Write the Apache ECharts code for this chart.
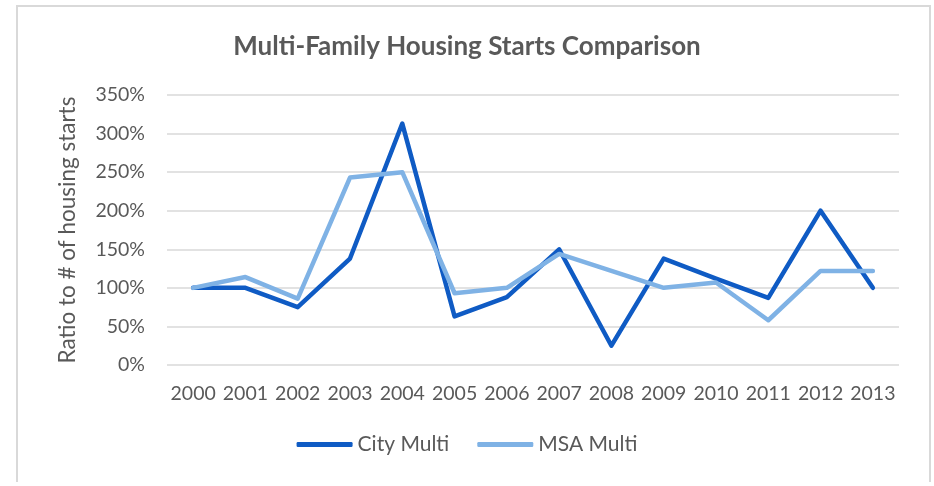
<!DOCTYPE html>
<html>
<head>
<meta charset="utf-8">
<script src="https://cdn.jsdelivr.net/npm/echarts@6/dist/echarts.min.js"></script>
<style>
  html, body { margin: 0; padding: 0; background: #fff; }
  #main { width: 934px; height: 486px; }
  .frame { position: absolute; left: 16px; top: 5px; width: 911px; height: 475px;
           border: 2px solid #d9d9d9; border-bottom: none; pointer-events: none; }
</style>
</head>
<body>
<div id="main"></div>
<div class="frame"></div>
<script>
// 年份
var years = ['2000','2001','2002','2003','2004','2005','2006','2007','2008','2009','2010','2011','2012','2013'];
// 比例 (%)
var cityMulti = [100, 100, 75, 138, 313, 63, 88, 150, 25, 138, 112, 87, 200, 100];
var msaMulti = [100, 114, 86, 243, 250, 93, 100, 144, 122, 100, 107, 58, 122, 122];

var myChart = echarts.init(document.getElementById('main'));
var font = 'Lato, "Open Sans", sans-serif';

var option = {
    backgroundColor: '#fff',
    title: {
        text: 'Multi-Family Housing Starts Comparison',
        left: 'center',
        top: 29,
        textStyle: { fontFamily: font, fontSize: 26, fontWeight: 'bold', color: '#595959' }
    },
    legend: {
        bottom: 26,
        left: 'center',
        itemWidth: 56,
        itemHeight: 5,
        itemGap: 28,
        icon: 'roundRect',
        textStyle: { fontFamily: font, fontSize: 21, color: '#595959' },
        data: ['City Multi', 'MSA Multi']
    },
    grid: { left: 167, right: 35, top: 95, bottom: 121 },
    xAxis: {
        type: 'category',
        data: years,
        axisLine: { show: false },
        axisTick: { show: false },
        axisLabel: { interval: 0, hideOverlap: false, fontFamily: font, fontSize: 19.5, color: '#595959', margin: 19 }
    },
    yAxis: {
        type: 'value',
        min: 0,
        max: 350,
        interval: 50,
        name: 'Ratio to # of housing starts',
        nameLocation: 'middle',
        nameGap: 88,
        nameTextStyle: { fontFamily: font, fontSize: 22.5, color: '#595959' },
        axisLabel: { fontFamily: font, fontSize: 19.5, color: '#595959', margin: 22, formatter: '{value}%' },
        splitLine: { lineStyle: { color: '#d9d9d9', width: 1.5 } }
    },
    series: [
        {
            name: 'City Multi',
            type: 'line',
            data: cityMulti,
            symbol: 'none',
            lineStyle: { color: '#0f5bc4', width: 4.5, cap: 'round', join: 'round' },
            itemStyle: { color: '#0f5bc4' }
        },
        {
            name: 'MSA Multi',
            type: 'line',
            data: msaMulti,
            symbol: 'none',
            lineStyle: { color: '#7fb2e5', width: 4.5, cap: 'round', join: 'round' },
            itemStyle: { color: '#7fb2e5' }
        }
    ]
};

myChart.setOption(option);
</script>
</body>
</html>
